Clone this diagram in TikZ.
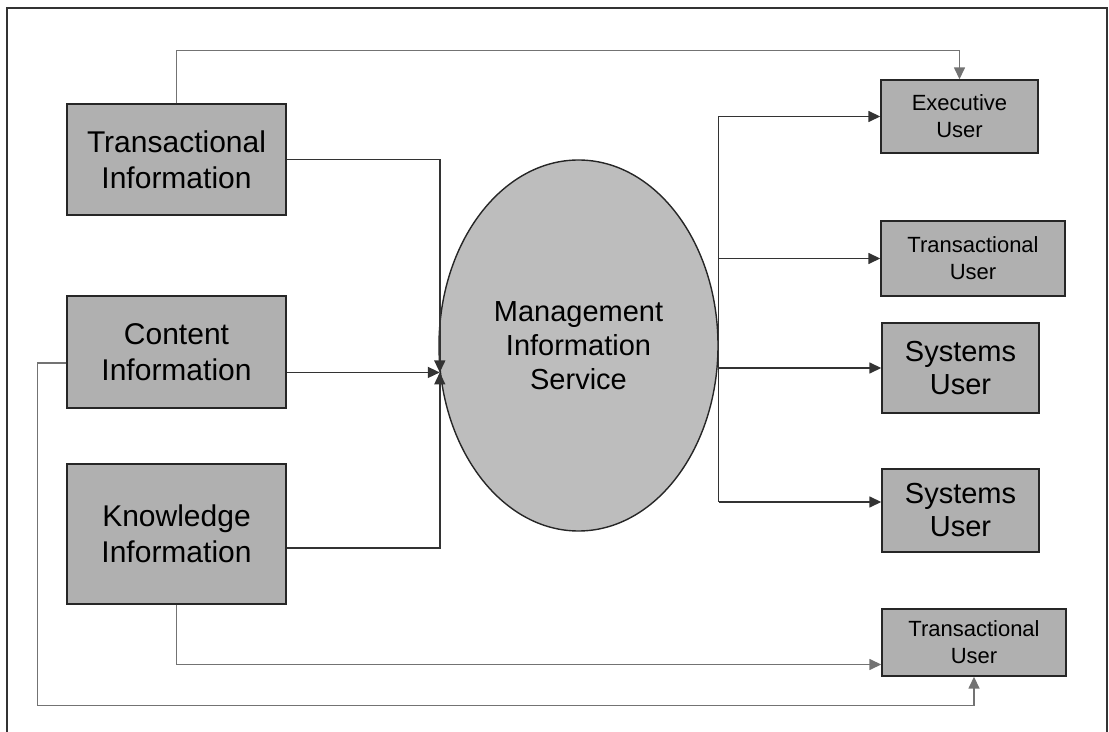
\documentclass[tikz,border=0pt]{standalone}
\usepackage{fontspec}
\setmainfont{Liberation Sans}
\usetikzlibrary{positioning,arrows.meta,shapes.geometric,calc}

\begin{document}
\begin{tikzpicture}[x=0.5pt,y=-0.5pt,
  box/.style={draw=black!85,line width=0.7pt,fill=gray!62,inner sep=0pt,align=center},
  bigtext/.style={font=\fontsize{15}{18}\selectfont},
  systext/.style={font=\fontsize{14.5}{16.5}\selectfont},
  smalltext/.style={font=\fontsize{11}{13.5}\selectfont},
  link/.style={draw=black!80,line width=0.75pt},
  farlink/.style={draw=black!55,line width=0.75pt},
  tip/.style={-{Triangle[length=6pt,width=5.5pt]}}]
  \useasboundingbox (0,0) rectangle (1109,732);
  \draw[line width=0.7pt,black!80] (7,732) -- (7,8) -- (1107,8) -- (1107,732);
  % information sources
  \node[box,bigtext,minimum width=109.5pt,minimum height=55.5pt] (ti) at (176.5,159.5) {Transactional\\Information};
  \node[box,bigtext,minimum width=109.5pt,minimum height=56pt] (ci) at (176.5,352) {Content\\Information};
  \node[box,bigtext,minimum width=109.5pt,minimum height=70pt] (ki) at (176.5,534) {Knowledge\\Information};
  % service
  \node[ellipse,draw=black!85,line width=0.7pt,fill=gray!52,inner sep=0pt,align=center,
        font=\fontsize{14.5}{17}\selectfont,minimum width=139.5pt,minimum height=185.5pt] (mis) at (578.5,345.5) {Management\\Information\\Service};
  % users
  \node[box,smalltext,minimum width=78.5pt,minimum height=36.5pt] (eu) at (959.5,116.5) {Executive\\User};
  \node[box,smalltext,minimum width=92pt,minimum height=37.5pt] (tu1) at (973,258.5) {Transactional\\User};
  \node[box,systext,minimum width=78.5pt,minimum height=45pt] (su1) at (960.5,368) {Systems\\User};
  \node[box,systext,minimum width=78.5pt,minimum height=41.5pt] (su2) at (960.5,510.5) {Systems\\User};
  \node[box,smalltext,minimum width=92pt,minimum height=33.5pt] (tu2) at (974,642.5) {Transactional\\User};
  % into the service
  \draw[link,tip] (ti.east) -| (mis.191);
  \draw[link,tip] (ci.east |- mis.191) -- (mis.191);
  \draw[link,tip] ($(ki.east)+(0,14)$) -| (mis.191);
  % out of the service
  \coordinate (su2in) at ($(su2.west)+(0,-8.5)$);
  \draw[link] (mis.east |- eu.west) -- (mis.east |- su2in);
  \foreach \u in {eu,tu1,su1}
    \draw[link,tip] (mis.east |- \u.west) -- (\u.west);
  \draw[link,tip] (mis.east |- su2in) -- (su2in);
  % direct routes
  \draw[farlink,tip] (ti.north) -- ++(0,-53) -| (eu.north);
  \draw[farlink,tip] (ki.south) |- ($(tu2.west)+(0,22)$);
  \draw[farlink,tip] ($(ci.west)+(0,11)$) -- ++(-29,0) |- ($(tu2.south)+(0,29)$) -- (tu2.south);
\end{tikzpicture}
\end{document}
